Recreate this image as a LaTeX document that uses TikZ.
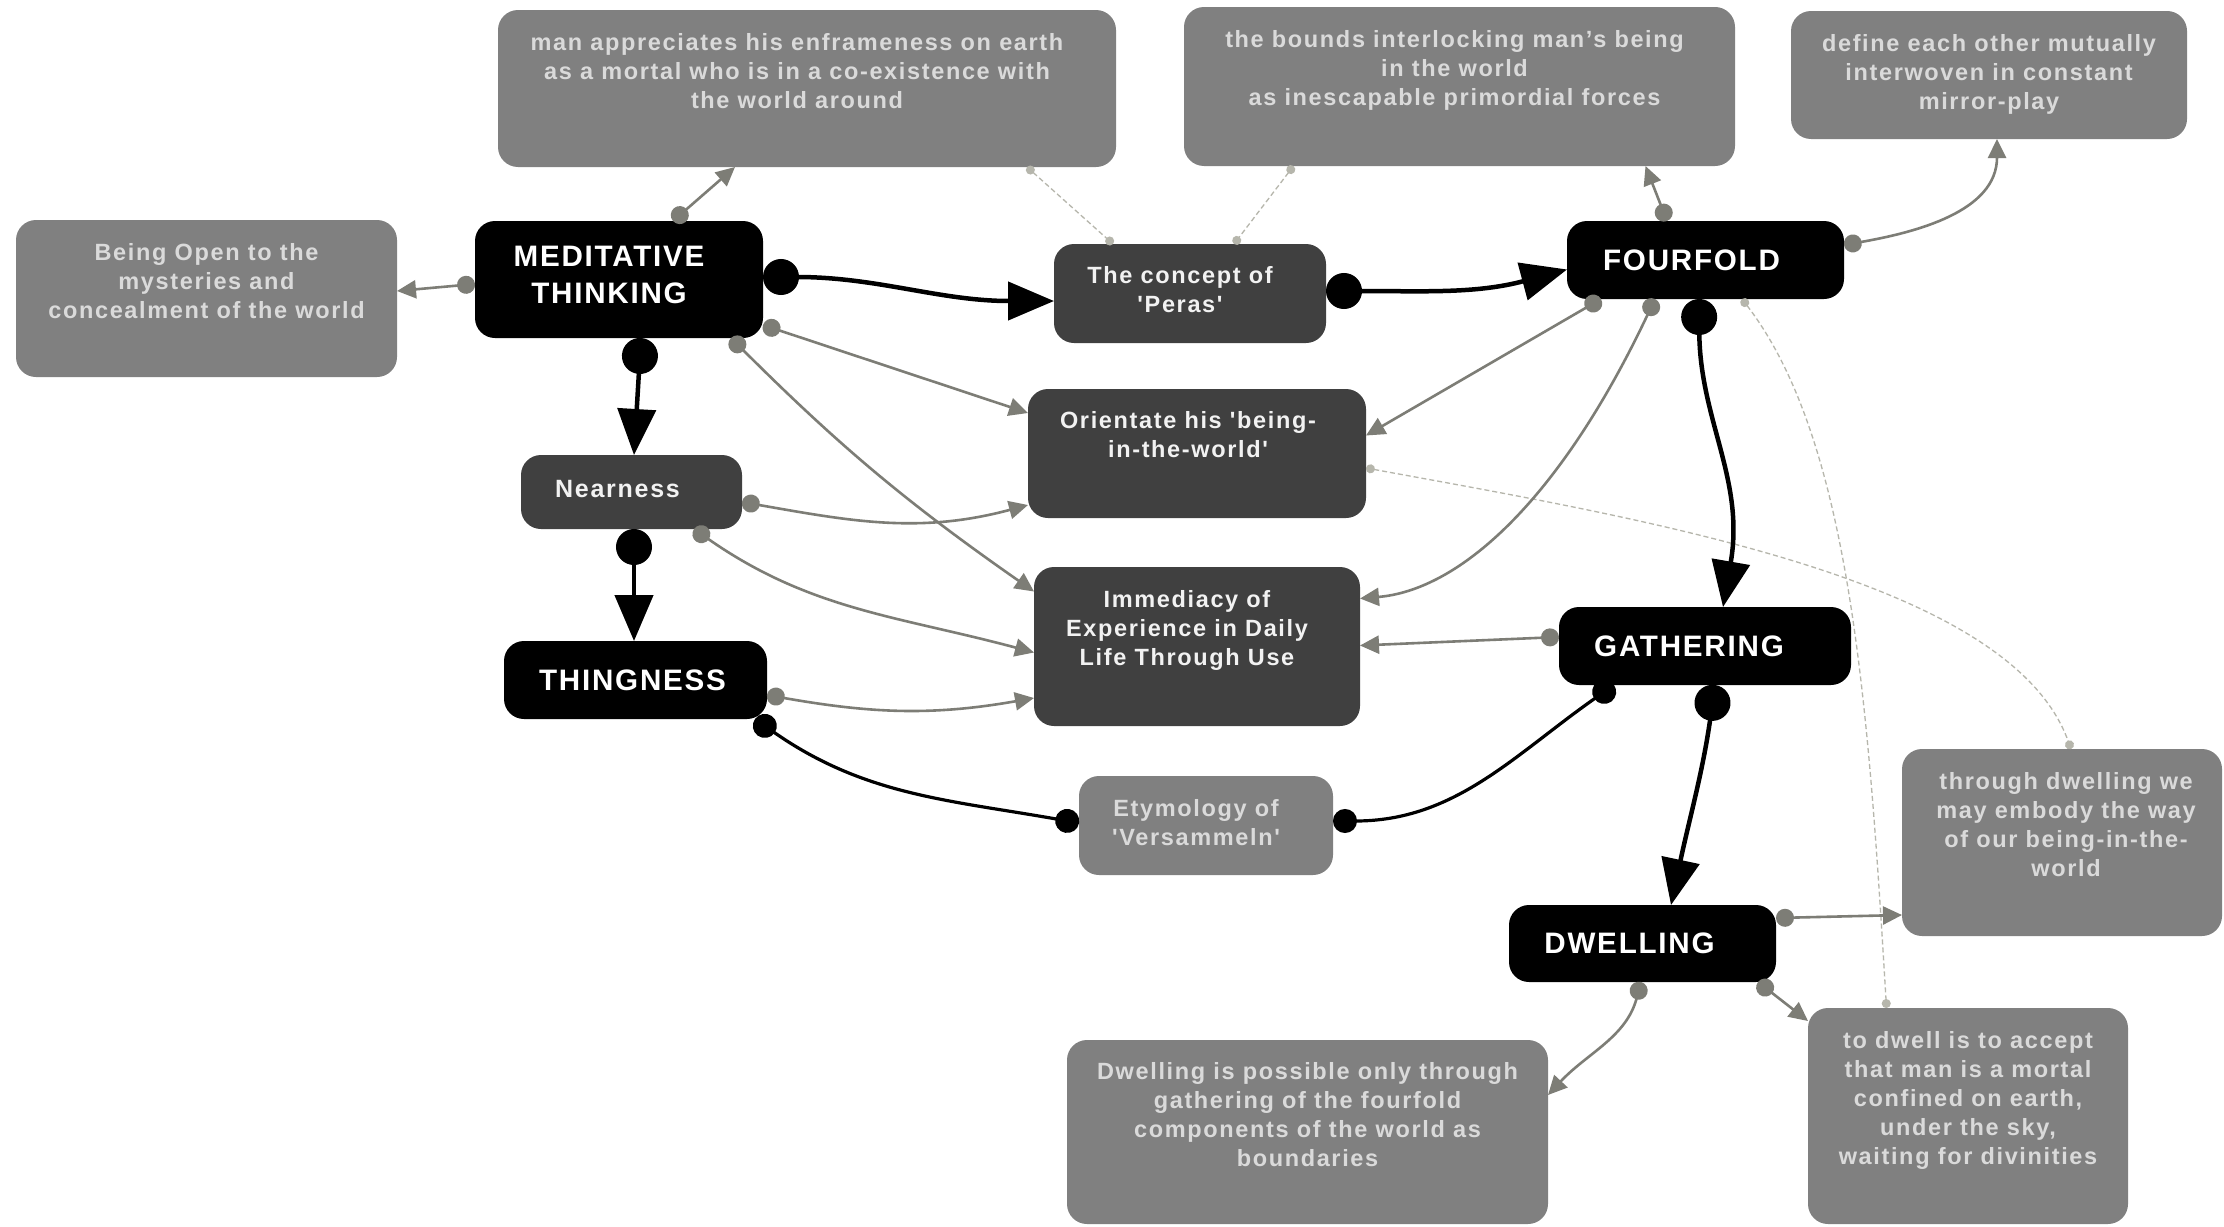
\documentclass[tikz,border=0pt]{standalone}
\usepackage{fontspec}
\usetikzlibrary{arrows.meta,calc}

% Label faces: a slightly spaced bold sans for the small texts, a bold sans for the key terms
\newfontfamily\boxlabelfont{Liberation Sans}[LetterSpace=7]
\newfontfamily\keylabelfont{Liberation Sans}[LetterSpace=6]

\definecolor{greyfill}{HTML}{808080}
\definecolor{darkfill}{HTML}{404040}
\definecolor{greytext}{HTML}{DADADA}
\definecolor{darktext}{HTML}{F2F2F2}
\definecolor{linkgrey}{RGB}{125,125,118}
\definecolor{notegrey}{RGB}{182,182,172}

\begin{document}
\begin{tikzpicture}[x=1pt,y=1pt,
  box/.style={rounded corners=20pt, inner sep=0pt, draw=none},
  keybox/.style={box, fill=black},
  midbox/.style={box, fill=darkfill},
  notebox/.style={box, fill=greyfill},
  keytext/.style={inner sep=0pt, align=center, text=white,
    font=\keylabelfont\bfseries\fontsize{29.6}{36.7}\selectfont},
  bodytext/.style={inner sep=0pt, align=center, anchor=north,
    font=\boxlabelfont\bfseries\fontsize{23.5}{29}\selectfont},
  notetext/.style={bodytext, text=greytext},
  midtext/.style={bodytext, text=darktext},
  mainlink/.style={line width=4.5pt, {Circle[length=36pt]}-{Triangle[length=46pt,width=38pt]}},
  tielink/.style={line width=3.2pt, {Circle[length=24pt]}-{Circle[length=24pt]}},
  sidelink/.style={draw=linkgrey, line width=2.6pt, {Circle[length=18pt]}-{Triangle[length=19pt,width=18pt]}},
  notelink/.style={draw=notegrey, line width=1.3pt, dash pattern=on 5pt off 3pt, {Circle[length=9pt]}-{Circle[length=9pt]}},
]
\fill[white] (0,0) rectangle (2224,-1226);
\useasboundingbox (0,0) rectangle (2224,-1226);

% ---------- boxes ----------
\node[notebox, minimum width=618pt, minimum height=157pt] (a1) at (807,-88.5) {};
\node[notetext] (a1t) at ($(a1.north)+(-10,-23.2)$)
  {man appreciates his enframeness on earth\\as a mortal who is in a co-existence with\\the world around};

\node[notebox, minimum width=551pt, minimum height=159pt] (a2) at (1459.5,-86.5) {};
\node[notetext] (a2t) at ($(a2.north)+(-5,-23.2)$)
  {the bounds interlocking man’s being\\in the world\\as inescapable primordial forces};

\node[notebox, minimum width=396pt, minimum height=128pt] (a3) at (1989,-75) {};
\node[notetext] (a3t) at ($(a3.north)+(0,-23.2)$)
  {define each other mutually\\interwoven in constant\\mirror-play};

\node[notebox, minimum width=381pt, minimum height=157pt] (a4) at (206.5,-298.5) {};
\node[notetext] (a4t) at ($(a4.north)+(0,-23.2)$)
  {Being Open to the\\mysteries and\\concealment of the world};

\node[keybox, minimum width=288pt, minimum height=117pt] (mt) at (619,-279.5) {};
\node[keytext] (mtt) at ($(mt)+(-10,4.3)$) {MEDITATIVE\\THINKING};

\node[midbox, minimum width=272pt, minimum height=99pt] (peras) at (1190,-293.5) {};
\node[midtext] (perast) at ($(peras.north)+(-10,-22.7)$) {The concept of\\'Peras'};

\node[keybox, minimum width=277pt, minimum height=78pt] (ff) at (1705.5,-260) {};
\node[keytext] (fft) at ($(ff)+(-14,0)$) {FOURFOLD};

\node[midbox, minimum width=338pt, minimum height=129pt] (ori) at (1197,-453.5) {};
\node[midtext] (orit) at ($(ori.north)+(-9,-22.7)$) {Orientate his 'being-\\in-the-world'};

\node[midbox, minimum width=221pt, minimum height=74pt] (near) at (631.5,-492) {};
\node[midtext, anchor=center, font=\boxlabelfont\bfseries\fontsize{25}{29}\selectfont]
  (neart) at ($(near)+(-14,3.4)$) {Nearness};

\node[midbox, minimum width=326pt, minimum height=159pt] (imm) at (1197,-646.5) {};
\node[midtext] (immt) at ($(imm.north)+(-10,-23.2)$)
  {Immediacy of\\Experience in Daily\\Life Through Use};

\node[keybox, minimum width=263pt, minimum height=78pt] (thing) at (635.5,-680) {};
\node[keytext] (thingt) at ($(thing)+(-3,0)$) {THINGNESS};

\node[keybox, minimum width=292pt, minimum height=78pt] (gath) at (1705,-646) {};
\node[keytext] (gatht) at ($(gath)+(-16,0)$) {GATHERING};

\node[notebox, minimum width=254pt, minimum height=99pt] (ety) at (1206,-825.5) {};
\node[notetext] (etyt) at ($(ety.north)+(-10,-23.7)$) {Etymology of\\'Versammeln'};

\node[notebox, minimum width=320pt, minimum height=187pt] (tdw) at (2062,-842.5) {};
\node[notetext] (tdwt) at ($(tdw.north)+(4,-23.7)$)
  {through dwelling we\\may embody the way\\of our being-in-the-\\world};

\node[keybox, minimum width=267pt, minimum height=77pt] (dw) at (1642.5,-943.5) {};
\node[keytext] (dwt) at ($(dw)+(-13,0)$) {DWELLING};

\node[notebox, minimum width=481pt, minimum height=184pt] (dpos) at (1307.5,-1132) {};
\node[notetext] (dpost) at ($(dpos.north)+(0,-22.7)$)
  {Dwelling is possible only through\\gathering of the fourfold\\components of the world as\\boundaries};

\node[notebox, minimum width=320pt, minimum height=216pt] (todw) at (1968,-1116) {};
\node[notetext] (todwt) at ($(todw.north)+(0,-23.2)$)
  {to dwell is to accept\\that man is a mortal\\confined on earth,\\under the sky,\\waiting for divinities};

% ---------- dashed cross references ----------
\draw[notelink] ($(a1)+(220,-78.5)$) -- ($(peras)+(-77,49.5)$);
\draw[notelink] ($(a2)+(-166,-79.5)$) -- ($(peras)+(44,49.5)$);
\draw[notelink] ($(ori)+(169,-14.5)$) .. controls ($(ori)+(453,-66.5)$) and ($(tdw)+(-52,262.5)$) .. ($(tdw)+(9,93.5)$);
\draw[notelink] ($(ff)+(36.5,-39)$) .. controls ($(ff)+(144.5,-180)$) and ($(todw)+(-100,416)$) .. ($(todw)+(-81.5,108)$);

% ---------- grey side links ----------
\draw[sidelink] ($(mt)+(54,58.5)$) -- ($(a1)+(-72,-78.5)$);
\draw[sidelink] ($(mt)+(-144,-4.5)$) -- ($(a4)+(190.5,7.5)$);
\draw[sidelink] ($(mt)+(144,-45.5)$) -- ($(ori)+(-169,40.5)$);
\draw[sidelink] ($(mt)+(112,-58.5)$) to[bend right=5] ($(imm)+(-163,55)$);
\draw[sidelink] ($(near)+(110.5,-10)$) to[out=-10,in=195] ($(ori)+(-169,-51.5)$);
\draw[sidelink] ($(near)+(62.5,-37)$) to[out=-35,in=165] ($(imm)+(-163,-6)$);
\draw[sidelink] ($(thing)+(131.5,-15)$) to[out=-10,in=190] ($(imm)+(-163,-51.5)$);
\draw[sidelink] ($(ff)+(-38.5,39)$) -- ($(a2)+(186,-79.5)$);
\draw[sidelink] ($(ff)+(138.5,15)$) to[out=10,in=-90] ($(a3)+(8,-64)$);
\draw[sidelink] ($(ff)+(-104.5,-39)$) -- ($(ori)+(169,18)$);
\draw[sidelink] ($(ff)+(-50.5,-39)$) .. controls ($(ff)+(-145.5,-240)$) and ($(imm)+(263,56.5)$) .. ($(imm)+(163,48)$);
\draw[sidelink] ($(gath)+(-146,9)$) -- ($(imm)+(163,1)$);
\draw[sidelink] ($(dw)+(133.5,25.5)$) -- ($(tdw)+(-160,-72.5)$);
\draw[sidelink] ($(dw)+(-1.5,-38.5)$) to[out=-105,in=47] ($(dpos)+(240.5,37)$);
\draw[sidelink] ($(dw)+(115.5,-38.5)$) -- ($(todw)+(-160,95)$);

% ---------- main black links ----------
\draw[mainlink] ($(mt)+(144,2.5)$) to[out=0,in=180] ($(peras)+(-136,-7.5)$);
\draw[mainlink] ($(peras)+(136,2.5)$) to[out=0,in=195] ($(ff)+(-138.5,-9.5)$);
\draw[mainlink] ($(mt)+(22,-58.5)$) -- ($(near)+(2.5,37)$);
\draw[mainlink] ($(near)+(2.5,-37)$) -- ($(thing)+(-1.5,39)$);
\draw[mainlink] ($(ff)+(-6.5,-39)$) .. controls ($(ff)+(-5.5,-160)$) and ($(gath)+(40,166)$) .. ($(gath)+(18,39)$);
\draw[mainlink] ($(gath)+(10,-39)$) to[out=-98,in=78] ($(dw)+(28.5,38.5)$);
\draw[tielink] ($(thing)+(119.5,-39)$) to[out=-35,in=170] ($(ety)+(-127,2.5)$);
\draw[tielink] ($(ety)+(127,4.5)$) to[out=0,in=215] ($(gath)+(-91,-39)$);
\end{tikzpicture}
\end{document}
